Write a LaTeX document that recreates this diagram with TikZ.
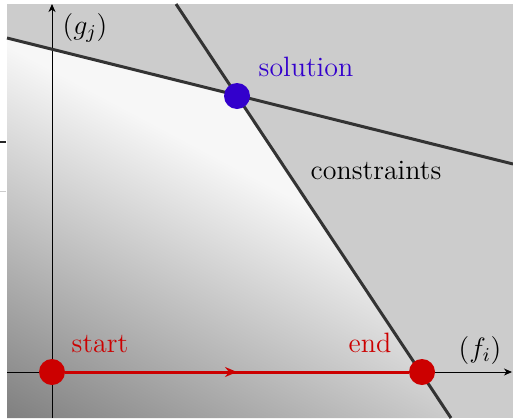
\RequirePackage{fix-cm}
\documentclass[tikz,border=0pt]{standalone}
\usepackage{fontspec}
\usepackage{xcolor}
\usepackage{tikz}
\usetikzlibrary{arrows.meta,positioning,calc,decorations.markings}
\definecolor{regionc}{HTML}{CCCCCC}
\definecolor{limitc}{HTML}{333333}
\definecolor{solc}{HTML}{3300CC}
\definecolor{pathc}{HTML}{CC0000}
\tikzset{
  dot/.style={circle, inner sep=0pt, minimum size=13pt, fill=#1},
  lbl/.style={font=\fontsize{14}{17}\selectfont, inner sep=1pt},
  limit/.style={limitc, line width=1.5pt},
  axis/.style={black, line width=0.5pt,
    -{Stealth[length=4pt, width=3.5pt, inset=1.2pt]}},
  move/.style={pathc, line width=1.5pt, postaction={decorate},
    decoration={markings, mark=at position 0.5 with
      {\arrow{Stealth[length=6pt, width=5pt, inset=2pt]}}}}}

\begin{document}
\begin{tikzpicture}[x=0.5pt, y=-0.5pt]
  \useasboundingbox (0,0) rectangle (513,418);
  % ---- grey background, and the two marks left of it
  \fill[regionc] (7,4) rectangle (513,418);
  \draw[black!85, line width=1pt] (0,142) -- (6,142);
  \draw[black!20, line width=0.5pt] (0,191) -- (6,191);
  % ---- feasible region, dark in the lower left, white towards the top
  \begin{scope}
    \clip (7,38) -- (237,96) -- (451,418) -- (7,418) -- cycle;
    \fill[black!3] (7,4) rectangle (513,418);
    \shade[transform canvas={rotate around={-28:(7,418)}},
      bottom color=black!50, top color=black!3]
      (-300,418) rectangle (900,88);
  \end{scope}
  % ---- axes
  \coordinate (ybot) at (52,418);
  \coordinate (ytop) at (52,4);
  \coordinate (xleft) at (7,372);
  \coordinate (xright) at (512,372);
  \draw[axis] (ybot) -- (ytop);
  \draw[axis] (xleft) -- (xright);
  % ---- the two constraints, meeting at the solution
  \coordinate (ga) at (7,38);
  \coordinate (gb) at (513,164);
  \coordinate (ha) at (176,4);
  \coordinate (hb) at (451,418);
  \draw[limit] (ga) -- (gb);
  \draw[limit] (ha) -- (hb);
  % ---- points and the path along (f_i)
  \node[dot=solc] (solpt) at (237,96) {};
  \node[dot=pathc] (startpt) at (52,372) {};
  \node[dot=pathc] (endpt) at (422,372) {};
  \draw[move] (startpt) -- (endpt);
  % ---- labels
  \node[lbl, text=solc] at ($(solpt)+(69,-29)$) {solution};
  \node[lbl] at (376,170) {constraints};
  \node[lbl, text=pathc] at ($(startpt)+(48,-28)$) {start};
  \node[lbl, text=pathc] at ($(endpt)+(-52,-29)$) {end};
  \node[lbl] at (85,28) {$(g_j)$};
  \node[lbl] at (480,350) {$(f_i)$};
\end{tikzpicture}
\end{document}
